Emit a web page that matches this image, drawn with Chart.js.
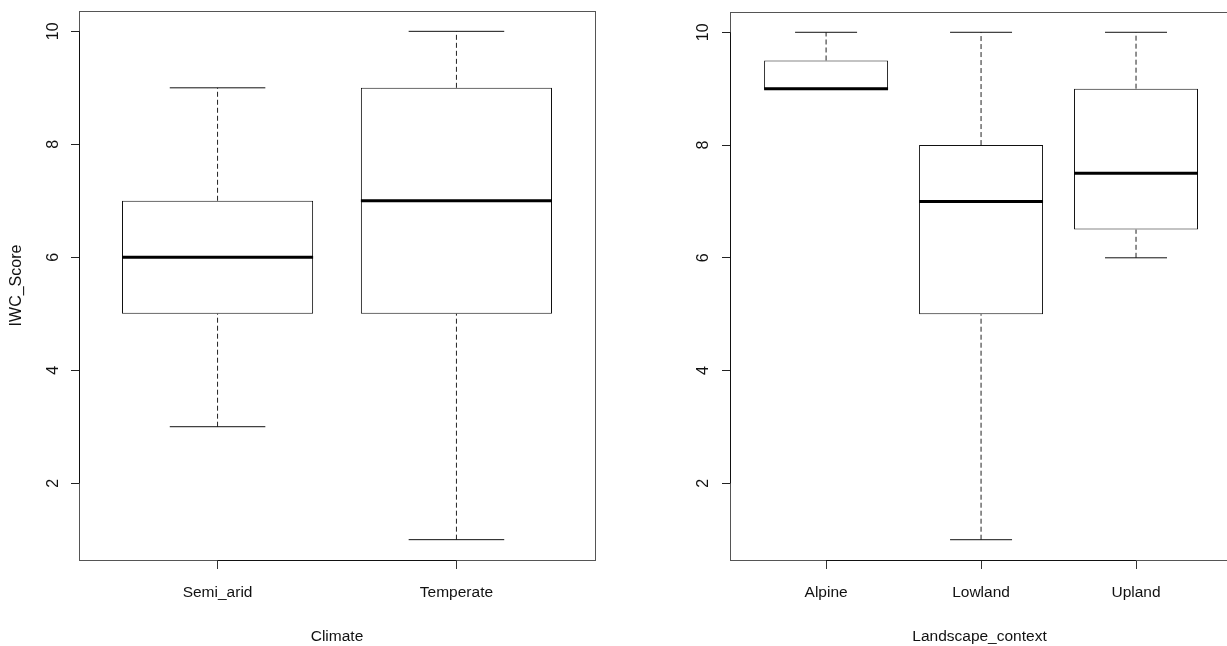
<!DOCTYPE html>
<html>
<head>
<meta charset="utf-8">
<script src="https://cdn.jsdelivr.net/npm/chart.js@4.4.1/dist/chart.umd.min.js"></script>
<style>
  html, body { margin: 0; padding: 0; background: #fff; overflow: hidden; width: 1227px; height: 646px; }
  #climate { position: absolute; left: 0; top: 0; }
  #landscape { position: absolute; left: 613px; top: 0; }
</style>
</head>
<body>
<canvas id="climate" width="613" height="646"></canvas>
<canvas id="landscape" width="640" height="646"></canvas>
<script>
// IWC_Score summary by climate
const climateGroups = ['Semi_arid', 'Temperate'];
const climateMin    = [3, 1];
const climateQ1     = [5, 5];
const climateMedian = [6, 7];
const climateQ3     = [7, 9];
const climateMax    = [9, 10];

// IWC_Score summary by landscape context
const landscapeGroups = ['Alpine', 'Lowland', 'Upland'];
const landscapeMin    = [9, 1, 6];
const landscapeQ1     = [9, 5, 6.5];
const landscapeMedian = [9, 7, 7.5];
const landscapeQ3     = [9.5, 8, 9];
const landscapeMax    = [10, 10, 10];

const scoreTicks = [2, 4, 6, 8, 10];

const FONT = "'Liberation Sans', Arial, Helvetica, sans-serif";
const BOX_WIDTH = 0.8;
const CAP_WIDTH = 0.4;

// frame around the plotting region, with darker axis spans between the outer ticks
const framePlugin = {
  id: 'frame',
  afterDraw(chart) {
    const { ctx, chartArea: a, scales } = chart;
    ctx.save();
    ctx.lineWidth = 1;
    ctx.strokeStyle = '#555';
    ctx.strokeRect(Math.round(a.left) + 0.5, Math.round(a.top) + 0.5,
                   Math.round(a.right - a.left), Math.round(a.bottom - a.top));
    ctx.strokeStyle = '#111';
    const xs = scales.x.ticks.map(t => scales.x.getPixelForValue(t.value));
    const ys = scales.y.ticks.map(t => scales.y.getPixelForValue(t.value));
    ctx.beginPath();
    ctx.moveTo(Math.min(...xs), Math.round(a.bottom) + 0.5);
    ctx.lineTo(Math.max(...xs), Math.round(a.bottom) + 0.5);
    ctx.moveTo(Math.round(a.left) + 0.5, Math.min(...ys));
    ctx.lineTo(Math.round(a.left) + 0.5, Math.max(...ys));
    ctx.stroke();
    ctx.restore();
  }
};

function boxplot(id, groups, mins, q1s, meds, q3s, maxs, layout) {
  const medianPts = [], capPts = [], whiskerPts = [], boxes = [];
  groups.forEach((g, i) => {
    const x = i + 1;
    medianPts.push({ x: x - BOX_WIDTH / 2, y: meds[i] }, { x: x + BOX_WIDTH / 2, y: meds[i] }, { x: x, y: null });
    capPts.push({ x: x - CAP_WIDTH / 2, y: maxs[i] }, { x: x + CAP_WIDTH / 2, y: maxs[i] }, { x: x, y: null });
    capPts.push({ x: x - CAP_WIDTH / 2, y: mins[i] }, { x: x + CAP_WIDTH / 2, y: mins[i] }, { x: x, y: null });
    whiskerPts.push({ x: x, y: q3s[i] }, { x: x, y: maxs[i] }, { x: x, y: null });
    whiskerPts.push({ x: x, y: mins[i] }, { x: x, y: q1s[i] }, { x: x, y: null });
    boxes.push({ x: x, y: [q1s[i], q3s[i]] });
  });

  const lineStyle = { type: 'line', pointRadius: 0, spanGaps: false, fill: false,
                      borderCapStyle: 'butt', tension: 0 };

  return new Chart(document.getElementById(id), {
    type: 'bar',
    data: {
      datasets: [
        Object.assign({ label: 'median', data: medianPts, borderColor: '#000', borderWidth: 3 }, lineStyle),
        Object.assign({ label: 'staple', data: capPts, borderColor: '#111', borderWidth: 1 }, lineStyle),
        Object.assign({ label: 'whisker', data: whiskerPts, borderColor: '#222', borderWidth: 1,
                        borderDash: [5, 3] }, lineStyle),
        { label: 'box', data: boxes, backgroundColor: '#fff', borderColor: '#111', borderWidth: 1,
          borderSkipped: false, barPercentage: BOX_WIDTH, categoryPercentage: 1 }
      ]
    },
    options: {
      responsive: false,
      devicePixelRatio: 1,
      animation: false,
      layout: { padding: { top: layout.top, right: layout.right, bottom: 0, left: 0 } },
      plugins: { legend: { display: false }, tooltip: { enabled: false } },
      scales: {
        x: {
          type: 'linear', min: layout.xMin, max: layout.xMax, offset: false,
          afterBuildTicks: s => { s.ticks = groups.map((g, i) => ({ value: i + 1 })); },
          afterFit: s => { s.height = 86; s.paddingLeft = 0; s.paddingRight = 0; },
          border: { display: false },
          grid: { offset: false, drawOnChartArea: false, drawTicks: true, tickLength: 9,
                  color: '#333', tickColor: '#333' },
          ticks: { autoSkip: false, maxRotation: 0, padding: 14, color: '#111',
                   font: { family: FONT, size: 15.5 },
                   callback: (v, i) => groups[i] },
          title: { display: true, text: layout.xTitle, color: '#111', padding: { top: 0, bottom: 0 },
                   font: { family: FONT, size: 15.5 } }
        },
        y: {
          type: 'linear', min: 0.64, max: 10.36,
          afterBuildTicks: s => { s.ticks = scoreTicks.map(v => ({ value: v })); },
          afterFit: s => { s.width = layout.yWidth; s.paddingTop = 0; s.paddingBottom = 0; },
          border: { display: false },
          grid: { drawOnChartArea: false, drawTicks: true, tickLength: 8, color: '#222', tickColor: '#222' },
          ticks: { minRotation: 90, maxRotation: 90, crossAlign: 'center', padding: layout.yPad,
                   color: '#111', font: { family: FONT, size: 16 } },
          title: { display: !!layout.yTitle, text: layout.yTitle || '', color: '#111',
                   padding: { top: 7, bottom: 0 }, font: { family: FONT, size: 16 } }
        }
      }
    },
    plugins: [framePlugin]
  });
}

boxplot('climate', climateGroups, climateMin, climateQ1, climateMedian, climateQ3, climateMax,
        { xMin: 0.42, xMax: 2.58, top: 11, right: 18, yWidth: 79, yPad: 9,
          xTitle: 'Climate', yTitle: 'IWC_Score' });

boxplot('landscape', landscapeGroups, landscapeMin, landscapeQ1, landscapeMedian, landscapeQ3, landscapeMax,
        { xMin: 0.38, xMax: 3.60, top: 12, right: 24, yWidth: 117, yPad: 10,
          xTitle: 'Landscape_context' });
</script>
</body>
</html>
